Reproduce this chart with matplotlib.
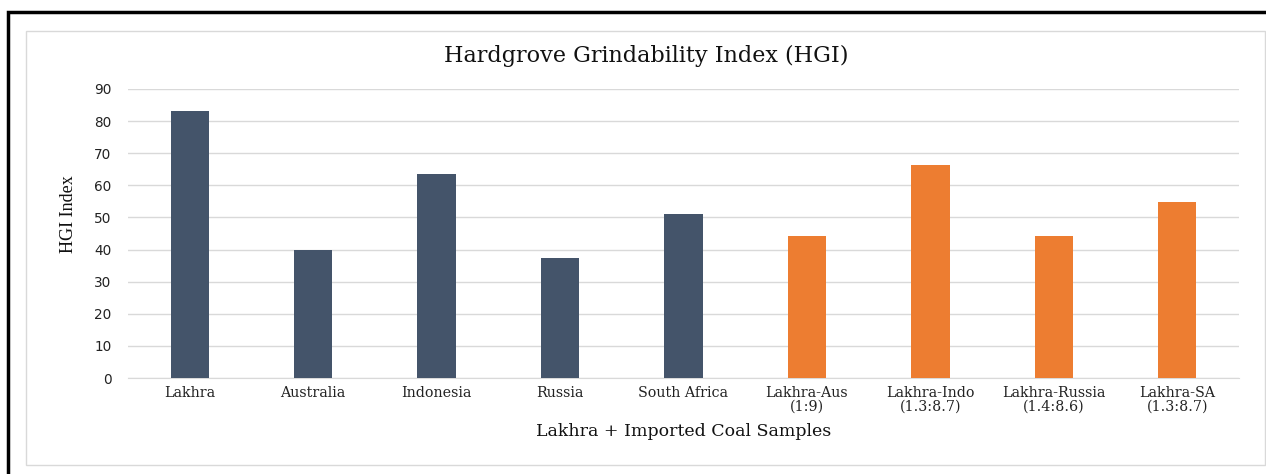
import matplotlib.pyplot as plt
from matplotlib.patches import Rectangle

samples = ['Lakhra', 'Australia', 'Indonesia', 'Russia', 'South Africa',
           'Lakhra-Aus\n(1:9)', 'Lakhra-Indo\n(1.3:8.7)', 'Lakhra-Russia\n(1.4:8.6)', 'Lakhra-SA\n(1.3:8.7)']
hgi = [83, 40, 63.5, 37.4, 51.1, 44.2, 66.4, 44.2, 54.8]
colors = ['#44546A'] * 5 + ['#ED7D31'] * 4

fig = plt.figure(figsize=(12.66, 4.74), dpi=100)

# outer black frame and inner grey chart border
fig.patches.append(Rectangle((8 / 1266, -0.1), 1.2, 1 - 12.5 / 474 + 0.1, transform=fig.transFigure,
                             fill=False, edgecolor='black', linewidth=2.5))
fig.patches.append(Rectangle((26 / 1266, 1 - 465 / 474), (1265 - 26) / 1266, (465 - 31) / 474,
                             transform=fig.transFigure, fill=False, edgecolor='#d9d9d9', linewidth=1))

ax = fig.add_axes([128 / 1266, 1 - 378 / 474, (1239 - 128) / 1266, (378 - 89) / 474])
x = range(len(samples))
ax.bar(x, hgi, width=0.31, color=colors, zorder=3)
ax.set_xlim(-0.5, len(samples) - 0.5)
ax.set_ylim(0, 90)
ax.set_yticks(range(0, 91, 10))
ax.set_xticks(list(x))
ax.set_xticklabels(samples, fontfamily='DejaVu Serif', fontsize=10.3, linespacing=0.95, color='#222222')
for lbl in ax.get_yticklabels():
    lbl.set_fontfamily('DejaVu Sans')
    lbl.set_fontsize(9.8)
    lbl.set_color('#222222')
ax.tick_params(axis='y', length=0, pad=12)
ax.tick_params(axis='x', length=0, pad=6)
ax.yaxis.grid(True, color='#d9d9d9', linewidth=1)
for s in ['top', 'right', 'left']:
    ax.spines[s].set_visible(False)
ax.spines['bottom'].set_color('#d9d9d9')

ax.set_ylabel('HGI Index', fontfamily='Liberation Serif', fontsize=13, va='center', color='#111111')
ax.yaxis.set_label_coords((68.5 - 128) / 1111, (378 - 214) / 289)
ax.set_xlabel('Lakhra + Imported Coal Samples', fontfamily='DejaVu Serif', fontsize=12.5,
              va='center', color='#111111')
ax.xaxis.set_label_coords(0.5, (378 - 432) / 289)
fig.text(646 / 1266, 1 - 56 / 474, 'Hardgrove Grindability Index (HGI)', ha='center', va='center',
         fontfamily='DejaVu Serif', fontsize=16, color='#111111')

fig.savefig('out.png', dpi=100)
